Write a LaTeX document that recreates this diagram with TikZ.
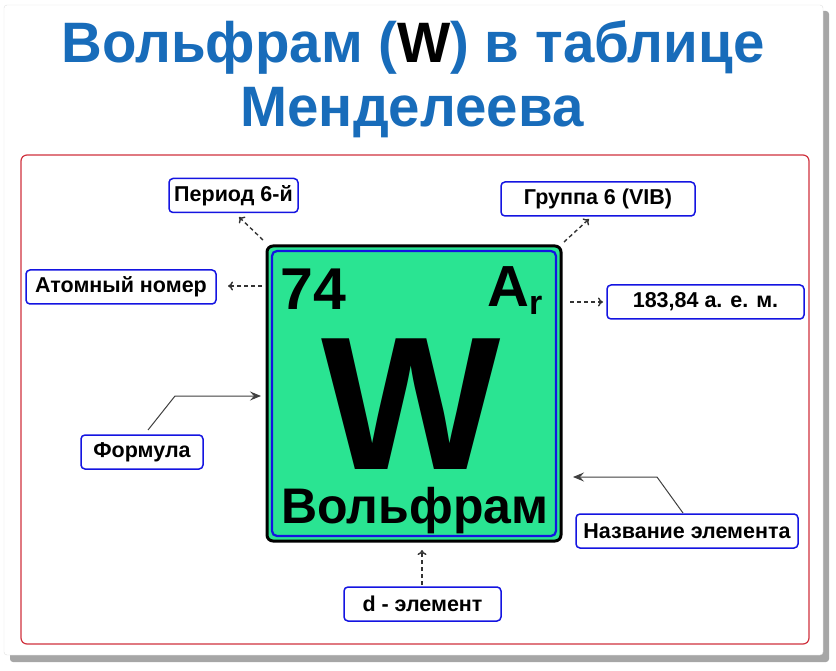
\documentclass[tikz,border=0pt]{standalone}
\usepackage{fontspec}
\setmainfont{Liberation Sans}
\newfontfamily\narrowfont[FakeStretch=0.99]{Liberation Sans}
\usetikzlibrary{arrows.meta}

\definecolor{titleblue}{RGB}{24,108,186}
\definecolor{cellgreen}{RGB}{42,228,146}
\definecolor{boxblue}{RGB}{20,20,225}
\definecolor{framered}{RGB}{208,50,62}

\tikzset{
  infobox/.style={draw=boxblue,line width=1.5pt,rounded corners=4pt,fill=white,
    minimum height=34pt,inner sep=0pt,font=\fontsize{21.5}{21.5}\selectfont\bfseries},
  dasharrow/.style={dash pattern=on 4pt off 3pt,line width=1.4pt,black!80,-{To[length=5pt,width=9pt,line width=1.4pt]}},
  solidarrow/.style={line width=1pt,black!75,-{Stealth[length=11pt,width=9pt,inset=4pt]}}
}

\begin{document}
\begin{tikzpicture}[x=1pt,y=1pt,yscale=-1,xscale=1]
\useasboundingbox (0,0) rectangle (836,671);

%Shape: Card with shadow
\fill[black!35,rounded corners=3pt] (10,11) rectangle (829,662);
\draw[black!12,fill=white,rounded corners=3pt] (4,5) rectangle (823,655);
%Shape: Red frame
\draw[framered,line width=1.2pt,rounded corners=6pt] (21,155) rectangle (809,644);

% Text Node
\node[anchor=base,text=titleblue,font=\narrowfont\fontsize{57}{57}\selectfont\bfseries] (title1) at (413,63) {Вольфрам (\textcolor{black}{W}) в таблице};
% Text Node
\node[anchor=base,text=titleblue,font=\narrowfont\fontsize{57}{57}\selectfont\bfseries] (title2) at (412,127) {Менделеева};

%Shape: Element cell
\draw[black,line width=3pt,fill=cellgreen,rounded corners=6pt] (267,246) rectangle (561,541);
\draw[boxblue,line width=2.2pt,rounded corners=5pt] (272,251) rectangle (556,536);
\node[minimum width=294pt,minimum height=295pt,inner sep=0pt] (cell) at (414,393.5) {};

% Text Node
\node[anchor=base west,inner sep=0pt,font=\fontsize{59}{59}\selectfont\bfseries] (number) at (280,309) {74};
% Text Node
\node[anchor=base west,inner sep=0pt,font=\fontsize{58}{58}\selectfont\bfseries] (mass) at (487,307) {A};
% Text Node
\node[anchor=base west,inner sep=0pt,font=\fontsize{34}{34}\selectfont\bfseries] (massr) at (529,315) {r};
% Text Node
\node[anchor=base,inner sep=0pt,text depth=0pt,font=\fontsize{190}{190}\selectfont\bfseries] (symbol) at (411,469) {W};
% Text Node
\node[anchor=base,inner sep=0pt,font=\fontsize{50}{50}\selectfont\bfseries] (name) at (415,523) {Вольфрам};

% Label Nodes
\node[infobox,minimum width=129pt] (period) at (233.5,195.5) {Период 6-й};
\node[infobox,minimum width=194pt] (group) at (598,199) {Группа 6 (VIB)};
\node[infobox,minimum width=190pt] (atomic) at (121,287) {Атомный номер};
\node[infobox,minimum width=197pt] (weight) at (705.5,302) {183,84 а. е. м.};
\node[infobox,minimum width=122pt] (formula) at (142,452) {Формула};
\node[infobox,minimum width=222pt] (title) at (687,531) {Название элемента};
\node[infobox,minimum width=157pt] (dblock) at (422.5,604) {d - элемент};

% Connectors
\coordinate (periodstart) at (263,240);
\coordinate (groupstart) at (564,242);
\coordinate (atomicstart) at (262,286);
\coordinate (weightstart) at (570,302);
\coordinate (dstart) at (422,585);
\draw[dasharrow] (periodstart) -- (239,217);
\draw[dasharrow] (groupstart) -- (589,219);
\draw[dasharrow] (atomicstart) -- (228,286);
\draw[dasharrow] (weightstart) -- (603,302);
\draw[dasharrow] (dstart) -- (422,550);
\draw[solidarrow] (148,430) -- (175,396) -- (261,396);
\draw[solidarrow] (683,513) -- (657,477) -- (573,477);

\end{tikzpicture}
\end{document}
